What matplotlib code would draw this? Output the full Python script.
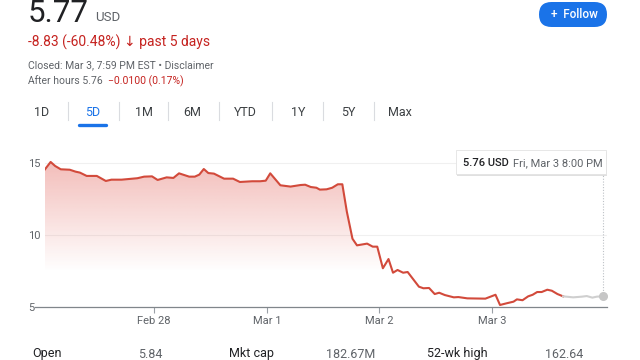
import matplotlib
matplotlib.use("Agg")
import matplotlib.pyplot as plt
import matplotlib.transforms as mtransforms
import numpy as np
from matplotlib.patches import FancyBboxPatch

plt.rcParams["font.family"] = ["Roboto", "DejaVu Sans"]

# --- data (time in days, 1 = Feb 28, 2 = Mar 1, ...) ---
times = [0.03, 0.08, 0.12, 0.17, 0.25, 0.30, 0.34, 0.40, 0.49, 0.57, 0.62, 0.71,
         0.85, 0.91, 0.98, 1.03, 1.11, 1.17, 1.22, 1.31, 1.36, 1.40, 1.44, 1.48,
         1.53, 1.62, 1.70, 1.76, 1.87, 1.94, 1.99, 2.03, 2.12, 2.21, 2.30, 2.34,
         2.39, 2.44, 2.47, 2.53, 2.58, 2.63, 2.67, 2.71, 2.76, 2.80, 2.89, 2.94,
         2.98, 3.03, 3.08, 3.12, 3.16, 3.21, 3.25, 3.35, 3.39, 3.44, 3.49, 3.53,
         3.58, 3.66, 3.70, 3.78, 3.94, 4.03, 4.07, 4.13, 4.19, 4.22, 4.27, 4.32,
         4.36, 4.40, 4.44, 4.49, 4.53, 4.58, 4.63]
prices = [14.56, 15.07, 14.79, 14.56, 14.53, 14.40, 14.33, 14.10, 14.10, 13.75, 13.84, 13.84,
          13.94, 14.05, 14.07, 13.82, 14.00, 13.96, 14.28, 14.05, 14.05, 14.19, 14.58, 14.30,
          14.26, 13.91, 13.91, 13.68, 13.73, 13.73, 13.77, 14.28, 13.45, 13.36, 13.47, 13.49,
          13.33, 13.28, 13.15, 13.17, 13.28, 13.52, 13.52, 11.62, 9.74, 9.28, 9.40, 9.19,
          9.19, 7.69, 8.33, 7.38, 7.57, 7.38, 7.43, 6.41, 6.30, 6.32, 5.90, 5.99,
          5.83, 5.67, 5.69, 5.60, 5.58, 5.85, 5.14, 5.26, 5.37, 5.53, 5.47, 5.74,
          5.85, 6.04, 6.04, 6.20, 6.13, 5.90, 5.74]
# after hours part (drawn in gray)
ah_times = [4.72, 4.80, 4.84, 4.89, 4.93, 4.985]
ah_prices = [5.67, 5.72, 5.76, 5.65, 5.72, 5.74]

tick_pos = [1, 2, 3, 4]
tick_labels = ["Feb 28", "Mar 1", "Mar 2", "Mar 3"]
y_ticks = [5, 10, 15]

tabs = ["1D", "5D", "1M", "6M", "YTD", "1Y", "5Y", "Max"]
stat_labels = ["Open", "Mkt cap", "52-wk high"]
stat_values = ["5.84", "182.67M", "162.64"]

RED = "#d24a3b"
GRAY_TXT = "#5f6368"
DARK = "#202124"
BLUE = "#1a73e8"

W, H = 640, 360
fig = plt.figure(figsize=(6.4, 3.6), dpi=100)
# pixel coordinates, origin bottom-left
pix = mtransforms.Affine2D().scale(1 / W, 1 / H) + fig.transFigure


def px(x, y):
    """pixel (from top-left) -> figure fraction"""
    return x / W, 1 - y / H


# --- chart ---
ax = fig.add_axes([45 / W, 53 / H, 562 / W, 157 / H])
ax.set_xlim(0.03, 5.02)
ax.set_ylim(5, 15.9)

ax.plot(times, prices, color=RED, lw=1.5, solid_joinstyle="round", zorder=3)
ax.plot([times[-1]] + ah_times, [prices[-1]] + ah_prices, color="#cfcfcf", lw=1.5, zorder=3)
ax.plot(ah_times[-1], ah_prices[-1], "o", color="#c6c6c6", ms=5.5, zorder=4)

# gradient fill under the regular-session line
poly = ax.fill_between(times, prices, 5, facecolor="none", edgecolor="none")
grad = np.zeros((256, 2, 4))
grad[..., 0] = 217 / 255
grad[..., 1] = 48 / 255
grad[..., 2] = 37 / 255
grad[..., 3] = np.linspace(0.32, 0.0, 256)[:, None]
img = ax.imshow(grad, extent=[0.03, 5.02, 7.4, 15.1], aspect="auto", origin="upper", zorder=2)
img.set_clip_path(poly.get_paths()[0], transform=ax.transData)

ax.set_yticks(y_ticks)
ax.set_yticklabels([str(v) for v in y_ticks])
ax.set_xticks(tick_pos)
ax.set_xticklabels(tick_labels)
ax.tick_params(axis="y", length=0, pad=12.2, labelsize=8, labelcolor=GRAY_TXT)
for lbl in ax.get_yticklabels():
    lbl.set_horizontalalignment("left")
ax.tick_params(axis="x", length=4, width=0.8, color="#9aa0a6", pad=2.5,
               labelsize=8, labelcolor=GRAY_TXT)
ax.grid(axis="y", color="#f0f0f0", lw=0.8)
ax.set_axisbelow(True)
for s in ["top", "right", "left", "bottom"]:
    ax.spines[s].set_visible(False)
ax.plot([-10 / 562, 1], [0, 0], transform=ax.transAxes, color="#80868b", lw=0.9, clip_on=False, zorder=5)

# hover line + tooltip
ax.plot([ah_times[-1], ah_times[-1]], [ah_prices[-1], 14.24], color="#bdc1c6", lw=0.8, ls=(0, (1, 1.5)), zorder=1)
shadow = FancyBboxPatch((456.5, H - 175.5), 150, 24, boxstyle="square,pad=0",
                        transform=pix, fc="#000000", alpha=0.12, ec="none")
box = FancyBboxPatch((456, H - 174), 150, 24, boxstyle="square,pad=0",
                     transform=pix, fc="white", ec="#e3e3e3", lw=0.6)
fig.patches.extend([shadow, box])
fig.text(*px(463, 163), "5.76 USD", fontsize=8, color=DARK, va="center", weight="medium")
fig.text(*px(513, 163), "Fri, Mar 3 8:00 PM", fontsize=8, color=GRAY_TXT, va="center")

# --- header ---
fig.text(*px(28, 22), "5.77", fontsize=22.5, color=DARK, va="baseline")
fig.text(*px(95, 21), "USD", fontsize=9.5, color=GRAY_TXT, va="baseline")
fig.text(*px(28, 47), "-8.83 (-60.48%) \u2193 past 5 days", fontsize=10, color="#c5221f", va="baseline")
fig.text(*px(28, 68.5), "Closed: Mar 3, 7:59 PM EST \u2022 Disclaimer", fontsize=7.5,
         color=GRAY_TXT, va="baseline")
fig.text(*px(28, 84.5), "After hours 5.76", fontsize=7.5, color=GRAY_TXT, va="baseline")
fig.text(*px(108, 84.5), "\u22120.0100 (0.17%)", fontsize=7.5, color="#c5221f", va="baseline")

# follow button (pill)
btn = FancyBboxPatch((539, H - 27), 68, 25, boxstyle="round,pad=0,rounding_size=12.5",
                     transform=pix, fc=BLUE, ec="none")
fig.patches.append(btn)
fig.text(*px(574, 14.5), "+  Follow", fontsize=8.5, color="white", ha="center", va="center",
         weight="medium")

# range tabs
tab_x = [42, 93, 144, 192, 245, 298, 348, 400]
for i, (t, x) in enumerate(zip(tabs, tab_x)):
    fig.text(*px(x, 112), t, fontsize=9, ha="center", va="center",
             color=BLUE if t == "5D" else "#3c4043")
    if i > 0:
        sx = (tab_x[i - 1] + x) / 2
        fig.add_artist(plt.Line2D([sx / W] * 2, [1 - 102 / H, 1 - 120 / H], color="#dadce0", lw=0.8))
fig.add_artist(plt.Line2D([79 / W, 106 / W], [1 - 125 / H] * 2, color=BLUE, lw=2.4,
                          solid_capstyle="round"))

# key stats row (cut at the bottom edge)
for lab, val, lx, vx in zip(stat_labels, stat_values, [32, 229, 427], [138, 326, 545]):
    fig.text(*px(lx, 354), lab, fontsize=9, color=DARK, va="center")
    fig.text(*px(vx, 354), val, fontsize=9, color=GRAY_TXT, va="center")

fig.savefig("out.png", dpi=100)
